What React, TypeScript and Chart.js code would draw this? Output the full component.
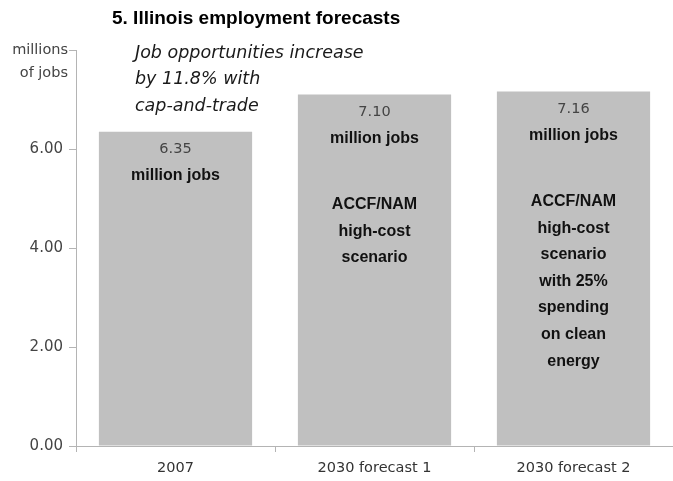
import React, { useEffect, useRef } from "react";
import { Chart, registerables } from "chart.js";

Chart.register(...registerables);

const categories = ["2007", "2030 forecast 1", "2030 forecast 2"];
const jobs = [6.35, 7.1, 7.16];
const valueLabels = ["6.35", "7.10", "7.16"];
const unitLabel = "million jobs";
const scenarioNotes: string[][] = [
  [],
  ["ACCF/NAM", "high-cost", "scenario"],
  ["ACCF/NAM", "high-cost", "scenario", "with 25%", "spending", "on clean", "energy"],
];
const titleText = "5. Illinois employment forecasts";
const subtitleLines = ["Job opportunities increase", "by 11.8% with", "cap-and-trade"];
const yAxisTitle = ["millions", "of jobs"];
const yMax = 8;
const yStep = 2;

const NUM_FONT = "'DejaVu Sans', sans-serif";
const BOLD_FONT = "'Liberation Sans', Arial, sans-serif";

const textPlugin = {
  id: "textPlugin",
  afterDraw(chart: any) {
    const ctx = chart.ctx as CanvasRenderingContext2D;
    const area = chart.chartArea;
    const yScale = chart.scales.y;
    ctx.save();
    // title
    ctx.fillStyle = "#000";
    ctx.font = `bold 19px ${BOLD_FONT}`;
    ctx.textAlign = "left";
    ctx.textBaseline = "middle";
    ctx.fillText(titleText, 112, 19);
    // subtitle
    ctx.fillStyle = "#1a1a1a";
    ctx.font = `italic 17.5px ${NUM_FONT}`;
    subtitleLines.forEach((l, i) => ctx.fillText(l, 135, 53 + i * 26.5));
    // y axis title
    ctx.fillStyle = "#444";
    ctx.font = `14.5px ${NUM_FONT}`;
    ctx.textAlign = "right";
    const yTop = yScale.getPixelForValue(yMax);
    ctx.fillText(yAxisTitle[0], area.left - 8, yTop);
    ctx.fillText(yAxisTitle[1], area.left - 8, yTop + 23);
    // bar labels
    const meta = chart.getDatasetMeta(0);
    ctx.textAlign = "center";
    meta.data.forEach((el: any, i: number) => {
      const x = el.x;
      const top = el.y;
      ctx.fillStyle = "#444";
      ctx.font = `14.5px ${NUM_FONT}`;
      ctx.fillText(valueLabels[i], x, top + 18);
      ctx.fillStyle = "#111";
      ctx.font = `bold 16px ${BOLD_FONT}`;
      ctx.fillText(unitLabel, x, top + 44);
      scenarioNotes[i].forEach((l, j) => ctx.fillText(l, x, top + 110 + j * 26.6));
    });
    ctx.restore();
  },
};

export default function App() {
  const ref = useRef<HTMLCanvasElement>(null);
  useEffect(() => {
    if (!ref.current) return;
    const chart = new Chart(ref.current, {
      type: "bar",
      data: {
        labels: categories,
        datasets: [
          {
            data: jobs,
            backgroundColor: "#c0c0c0",
            borderWidth: 0,
            categoryPercentage: 1,
            barPercentage: 0.77,
          },
        ],
      },
      options: {
        animation: false,
        responsive: false,
        devicePixelRatio: 1,
        layout: { padding: { top: 50, left: 0, right: 0, bottom: 0 } },
        plugins: {
          legend: { display: false },
          tooltip: { enabled: false },
          title: { display: false },
        },
        scales: {
          x: {
            type: "category",
            offset: true,
            grid: {
              display: true,
              drawOnChartArea: false,
              drawTicks: true,
              tickLength: 6,
              color: "#b4b4b4",
            },
            border: { display: true, color: "#b4b4b4" },
            ticks: {
              color: "#333",
              font: { family: NUM_FONT, size: 14.5 },
              padding: 8,
              maxRotation: 0,
            },
            afterFit(scale: any) {
              scale.height = 35;
            },
          },
          y: {
            min: 0,
            max: yMax,
            grid: {
              display: true,
              drawOnChartArea: false,
              drawTicks: true,
              tickLength: 7,
              color: "#b4b4b4",
            },
            border: { display: true, color: "#b4b4b4" },
            ticks: {
              stepSize: yStep,
              color: "#444",
              font: { family: NUM_FONT, size: 15 },
              padding: 6,
              callback: (v: any) => (Number(v) === yMax ? "" : Number(v).toFixed(2)),
            },
            afterFit(scale: any) {
              scale.width = 76;
            },
          },
        },
      },
      plugins: [textPlugin],
    });
    return () => chart.destroy();
  }, []);
  return (
    <div style={{ position: "absolute", left: 0, top: 0, width: 673, height: 481, background: "#fff" }}>
      <canvas ref={ref} width={673} height={481} />
    </div>
  );
}
